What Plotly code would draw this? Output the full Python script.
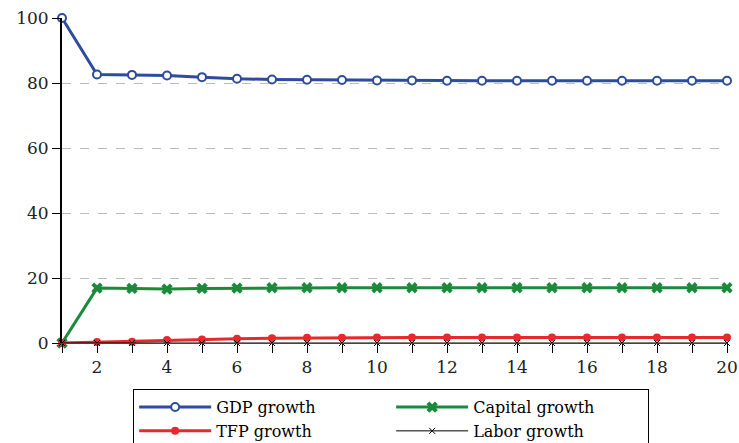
import plotly.graph_objects as go

periods = list(range(1, 21))
gdp_growth = [100.0, 82.6, 82.5, 82.3, 81.8, 81.3, 81.1, 81.0, 80.9, 80.8,
              80.8, 80.7, 80.7, 80.7, 80.7, 80.7, 80.7, 80.7, 80.7, 80.7]
capital_growth = [0.0, 16.9, 16.8, 16.6, 16.8, 16.9, 17.0, 17.0, 17.0, 17.0,
                  17.0, 17.0, 17.0, 17.0, 17.0, 17.0, 17.0, 17.0, 17.0, 17.0]
tfp_growth = [0.0, 0.3, 0.4, 0.9, 1.1, 1.3, 1.5, 1.6, 1.6, 1.7,
              1.7, 1.7, 1.7, 1.7, 1.7, 1.7, 1.7, 1.7, 1.7, 1.7]
labor_growth = [0.0] * 20

x_ticks = periods
x_ticktext = [str(p) if p % 2 == 0 else "" for p in periods]
y_ticks = [0, 20, 40, 60, 80, 100]

FONT = "DejaVu Serif"

fig = go.Figure()
fig.add_trace(go.Scatter(
    x=periods, y=gdp_growth, name="GDP growth", mode="lines+markers",
    line=dict(color="#2E4C9E", width=3),
    marker=dict(symbol="circle", size=8, color="white",
                line=dict(color="#2E4C9E", width=2)),
    cliponaxis=False))
fig.add_trace(go.Scatter(
    x=periods, y=capital_growth, name="Capital growth", mode="lines+markers",
    line=dict(color="#1B8A3A", width=3),
    marker=dict(symbol="x", size=10, color="#1B8A3A"),
    cliponaxis=False))
fig.add_trace(go.Scatter(
    x=periods, y=tfp_growth, name="TFP growth", mode="lines+markers",
    line=dict(color="#E8282A", width=3),
    marker=dict(symbol="circle", size=8, color="#E8282A"),
    cliponaxis=False))
fig.add_trace(go.Scatter(
    x=periods, y=labor_growth, name="Labor growth", mode="lines+markers",
    line=dict(color="black", width=1),
    marker=dict(symbol="x-thin", size=6, color="black",
                line=dict(color="black", width=1)),
    cliponaxis=False))

fig.update_layout(
    width=739, height=443,
    margin=dict(l=62, r=12, t=18, b=100, autoexpand=False),
    plot_bgcolor="white", paper_bgcolor="white",
    font=dict(family=FONT, size=17, color="#222222"),
    showlegend=True,
    legend=dict(
        orientation="h", x=0.107, xanchor="left", y=-0.142, yanchor="top",
        bordercolor="black", borderwidth=1, bgcolor="white",
        entrywidth=170, itemwidth=72, tracegroupgap=0,
        font=dict(family=FONT, size=16, color="black"),
    ),
)
fig.update_xaxes(
    range=[1, 20], tickmode="array", tickvals=x_ticks, ticktext=x_ticktext,
    ticks="outside", ticklen=9, tickcolor="black", tickwidth=1,
    showline=True, linecolor="#444444", linewidth=1,
    showgrid=False, zeroline=False,
)
fig.update_yaxes(
    range=[0, 100], tickmode="array", tickvals=y_ticks,
    ticks="outside", ticklen=8, tickcolor="black", tickwidth=1,
    showline=True, linecolor="black", linewidth=2,
    showgrid=True, gridcolor="#BBBBBB", griddash="dash", gridwidth=1,
    zeroline=False,
)

fig.write_html("out.html")
